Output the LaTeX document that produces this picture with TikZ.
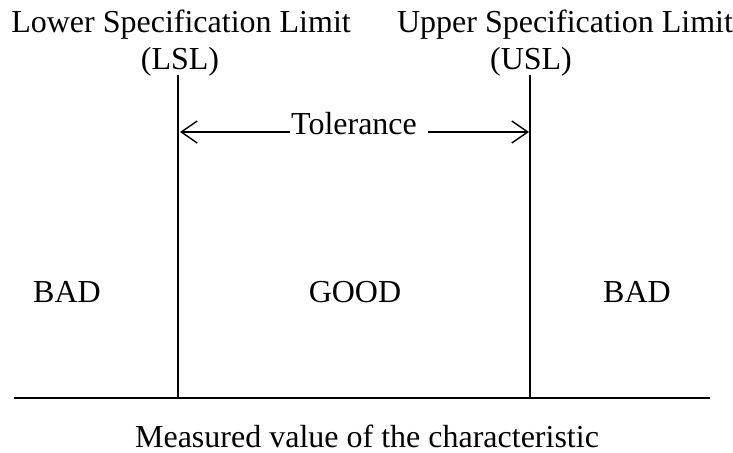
\documentclass[tikz,border=0pt]{standalone}
\usepackage{fontspec}
\setmainfont{Liberation Serif}
\usetikzlibrary{arrows.meta}

\tikzset{
  lbl/.style={font=\fontsize{16}{19}\selectfont, inner sep=0pt},
  limline/.style={line width=0.8pt},
  tolarrow/.style={line width=0.7pt, -{Straight Barb[length=8pt,width=11pt,line width=0.7pt]}}
}

\begin{document}
\begin{tikzpicture}[x=0.5pt,y=0.5pt]
  \useasboundingbox (0,0) rectangle (733,453);
  % axis
  \coordinate (axisL) at (14,55);
  \coordinate (axisR) at (710,55);
  \draw[limline] (axisL) -- (axisR);
  % limits
  \node[lbl] (lowerlbl) at (181,428) {Lower Specification Limit};
  \node[lbl] (lsl) at (180,391) {(LSL)};
  \node[lbl] (upperlbl) at (565,428) {Upper Specification Limit};
  \node[lbl] (usl) at (531,391) {(USL)};
  \coordinate (lsltop) at (178,378);
  \coordinate (lslbase) at (178,55);
  \coordinate (usltop) at (530,378);
  \coordinate (uslbase) at (530,55);
  \draw[limline] (lsltop) -- (lslbase);
  \draw[limline] (usltop) -- (uslbase);
  % tolerance
  \node[lbl] (tol) at (354,329) {Tolerance};
  \coordinate (gapL) at (290,321);
  \coordinate (gapR) at (428,321);
  \coordinate (tolL) at (180,321);
  \coordinate (tolR) at (529,321);
  \draw[tolarrow] (gapL) -- (tolL);
  \draw[tolarrow] (gapR) -- (tolR);
  % zones
  \node[lbl] (badL) at (67,161) {BAD};
  \node[lbl] (good) at (355,161) {GOOD};
  \node[lbl] (badR) at (637,161) {BAD};
  \node[lbl] (axislbl) at (367,17) {Measured value of the characteristic};
\end{tikzpicture}
\end{document}
